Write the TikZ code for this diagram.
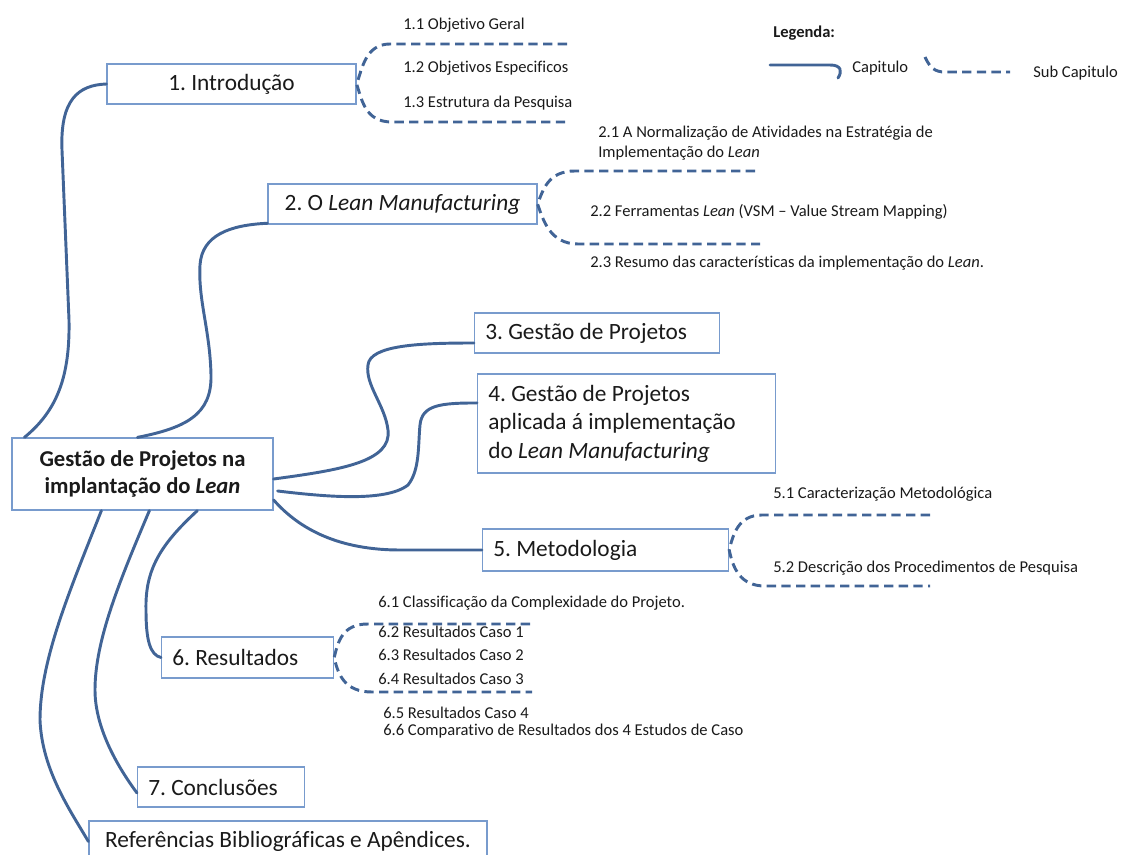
\documentclass[tikz,border=0pt]{standalone}
\usepackage{fontspec}
\setmainfont{Carlito}[Ligatures=NoCommon]
\definecolor{linec}{HTML}{416496}
\definecolor{boxc}{HTML}{789BCD}
\definecolor{txt}{HTML}{1A1A1A}
\begin{document}
\frenchspacing
\begin{tikzpicture}[x=0.75pt,y=-0.75pt,
  box/.style={draw=boxc, line width=0.9pt, fill=white, text=txt, font=\fontsize{17.5}{21}\selectfont, inner sep=0pt},
  lbox/.style={box, anchor=west, align=flush left, inner xsep=8pt},
  chap/.style={draw=linec, line width=2.2pt, line cap=round},
  sub/.style={draw=linec, line width=2.2pt, dash pattern=on 7pt off 4pt},
  lab/.style={anchor=west, inner sep=0pt, text=txt, font=\fontsize{12.4}{15}\selectfont, align=flush left}]
\useasboundingbox (0,0) rectangle (1121,855);

% boxes
\node[box, minimum width=186.75pt, minimum height=30pt] (intro) at (231.5,84) {1. Introdução};
\node[box, minimum width=201.75pt, minimum height=30pt] (lean) at (402.5,204) {2. O \textit{Lean Manufacturing}};
\node[box, minimum width=195.75pt, minimum height=54pt, align=center, font=\bfseries\fontsize{17}{20.25}\selectfont] (cen) at (142.5,474) {Gestão de Projetos na\\implantação do \textit{Lean}};
\node[lbox, text width=167.75pt, minimum height=30pt] (b3) at (474,333) {3. Gestão de Projetos};
\node[lbox, text width=207.5pt, minimum height=74.25pt, font=\fontsize{17.5}{21.4}\selectfont] (b4) at (477,423.5) {4. Gestão de Projetos\\aplicada á implementação\\do \textit{Lean Manufacturing}};
\node[lbox, text width=168.5pt, minimum height=31.5pt] (b5) at (482,550) {5. Metodologia};
\node[lbox, text width=113pt, minimum height=30.75pt] (b6) at (161,657.5) {6. Resultados};
\node[lbox, text width=109.25pt, minimum height=30pt] (b7) at (137,787) {7. Conclusões};
\node[box, minimum width=298.5pt, minimum height=30.75pt] (ref) at (288,841.5) {Referências Bibliográficas e Apêndices.};

% chapter connectors
\draw[chap] ([xshift=9.75pt]cen.north west) .. controls (58,410) and (70,375) .. (69,320) -- (62,150) .. controls (60,100) and (78,85) .. (intro.west);
\draw[chap] ([xshift=94.5pt]cen.north west) .. controls (185,428) and (212,415) .. (211,375) .. controls (210,330) and (198,300) .. (200,265) .. controls (202,235) and (230,225) .. ([yshift=1pt]lean.south west);
\draw[chap] ([yshift=-3.75pt]cen.east) .. controls (340,470) and (392,462) .. (388,430) .. controls (385,405) and (365,385) .. (368,365) .. controls (370,345) and (420,343) .. ([yshift=-7.5pt]b3.west);
\draw[chap] ([xshift=3pt,yshift=-12.75pt]cen.east) .. controls (320,496) and (385,503) .. (408,485) .. controls (420,470) and (418,445) .. (420,425) .. controls (422,405) and (440,403) .. ([yshift=15.4pt]b4.west);
\draw[chap] ([yshift=8pt]cen.south east) .. controls (300,530) and (340,550) .. (400,550) -- (b5.west);
\draw[chap] ([xshift=139.5pt]cen.south west) .. controls (160,545) and (145,570) .. (146,610) .. controls (146,640) and (150,655) .. (b6.west);
\draw[chap] ([xshift=103.5pt]cen.south west) .. controls (120,580) and (95,640) .. (95,690) .. controls (95,730) and (120,770) .. ([yshift=-4.5pt]b7.west);
\draw[chap] ([xshift=67.5pt]cen.south west) .. controls (70,590) and (40,660) .. (40,720) .. controls (42,770) and (70,810) .. (ref.west);

% sub-chapter brackets
\coordinate (i1) at (567,44); \coordinate (i2) at (567,122);
\draw[sub] (i1) -- (390,44) .. controls (365,44) and (362,70) .. (intro.east) .. controls (362,100) and (365,122) .. (392,122) -- (i2);
\coordinate (l1) at (755,171); \coordinate (l2) at (760,244);
\draw[sub] (l1) -- (575,171) .. controls (548,171) and (543,190) .. (lean.east) .. controls (543,220) and (550,244) .. (578,244) -- (l2);
\coordinate (m1) at (930,515); \coordinate (m2) at (930,586);
\draw[sub] (m1) -- (762,515) .. controls (738,515) and (733,535) .. (b5.east) .. controls (733,568) and (740,586) .. (765,586) -- (m2);
\coordinate (r1) at (530,624); \coordinate (r2) at (532,692);
\draw[sub] (r1) -- (368,624) .. controls (342,624) and (338,642) .. (b6.east) .. controls (338,675) and (345,692) .. (372,692) -- (r2);

% sub-chapter labels
\node[lab] (s11) at (403,25) {1.1 Objetivo Geral};
\node[lab] (s12) at (403,68) {1.2 Objetivos Especificos};
\node[lab] (s13) at (403,103) {1.3 Estrutura da Pesquisa};
\node[lab] (s21) at (598,143) {2.1 A Normalização de Atividades na Estratégia de\\Implementação do \textit{Lean}};
\node[lab] (s22) at (590,212) {2.2 Ferramentas \textit{Lean} (VSM – Value Stream Mapping)};
\node[lab] (s23) at (590,263) {2.3 Resumo das características da implementação do \textit{Lean}.};
\node[lab] (s51) at (773,494) {5.1 Caracterização Metodológica};
\node[lab] (s52) at (773,568) {5.2 Descrição dos Procedimentos de Pesquisa};
\node[lab] (s61) at (378,603) {6.1 Classificação da Complexidade do Projeto.};
\node[lab] (s62) at (378,632) {6.2 Resultados Caso 1};
\node[lab] (s63) at (378,655) {6.3 Resultados Caso 2};
\node[lab] (s64) at (378,679) {6.4 Resultados Caso 3};
\node[lab] (s65) at (383,713) {6.5 Resultados Caso 4};
\node[lab] (s66) at (383,731) {6.6 Comparativo de Resultados dos 4 Estudos de Caso};

% legend
\node[lab, font=\bfseries\fontsize{12.4}{15}\selectfont] (leg) at (773,33) {Legenda:};
\node[lab] (cap) at (852,68) {Capitulo};
\node[lab] (subcap) at (1033,73) {Sub Capitulo};
\coordinate (c1) at (770,65); \coordinate (c2) at (838,78);
\draw[chap] (c1) -- (830,65) .. controls (842,65) and (842,72) .. (c2);
\coordinate (d1) at (925,57); \coordinate (d2) at (1010,72);
\draw[sub] (d1) .. controls (930,68) and (935,72) .. (945,72) -- (d2);
\end{tikzpicture}
\end{document}
